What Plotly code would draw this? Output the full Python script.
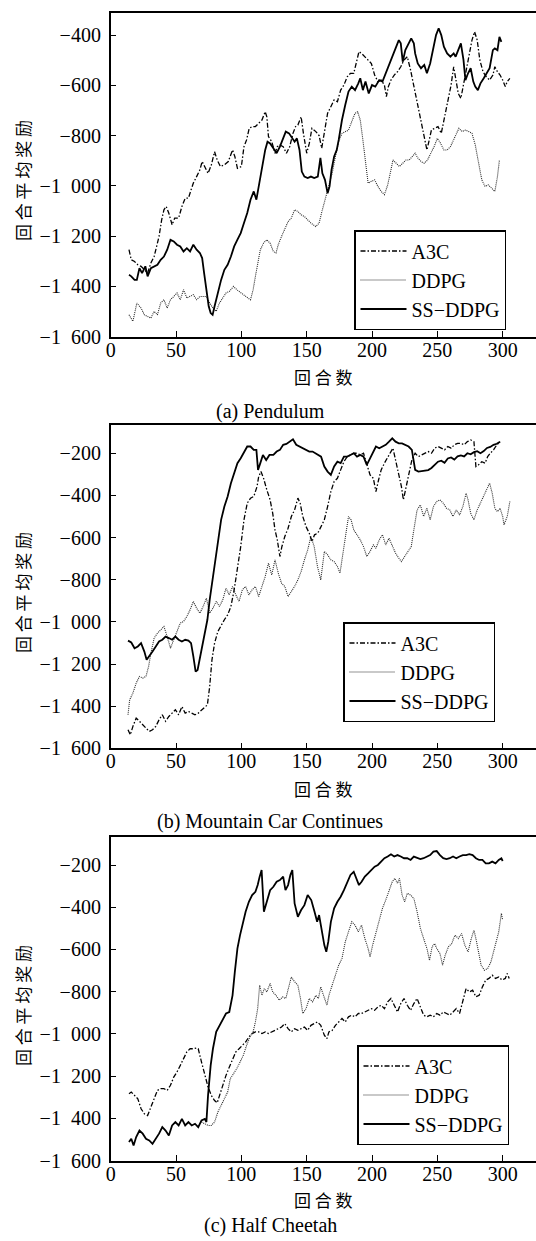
import plotly.graph_objects as go

# ---------------- data ----------------
# Panel (a) Pendulum
A_A3C_X = [14,15.75,18.25,20.75,23.25,25.75,28.25,30.75,33.25,35.75,37,39,40.75,42.5,44.5,47,49,52,54.5,57,59.5,61.5,63.25,65.75,68.25,70,72,74.5,77,79.5,81.5,84,87,90,93.25,95,97,100,102,104,106,108.25,110.75,113.25,115.75,118.25,119.5,120.75,123.25,125.75,127.5,129.5,132,134.5,137,139.5,141.5,143.25,145.75,147.5,150,152,154,157,159.5,161.5,163.5,166,168.5,171,173.5,176,178.5,181,183.5,186,188.5,190,192,194.5,197,199.5,202,204.5,207,209.5,211,212.5,214.5,217,219.5,222,224.5,227,229.5,232,234.5,237,239.5,242,243.5,245.5,248,250.5,253,255.5,258,260.5,262.5,264,266,268,270,272,274,276.5,278.5,280.5,282.5,285,287.5,290,292.5,294,296,298,300,302,303.5,305.5]
A_A3C_Y = [-1254,-1294,-1301,-1314,-1320,-1334,-1347,-1307,-1281,-1228,-1201,-1135,-1095,-1082,-1109,-1155,-1128,-1128,-1082,-1049,-1049,-1016,-989,-963,-936,-903,-923,-950,-917,-864,-897,-923,-916,-903,-857,-883,-930,-923,-844,-817,-771,-764,-764,-751,-738,-705,-725,-804,-824,-870,-844,-837,-844,-870,-844,-791,-764,-758,-725,-791,-870,-831,-771,-784,-800,-850,-791,-711,-685,-658,-665,-619,-599,-566,-552,-552,-499,-466,-473,-486,-499,-513,-559,-585,-579,-599,-645,-605,-579,-559,-546,-526,-499,-486,-539,-605,-658,-724,-791,-857,-824,-777,-771,-764,-791,-724,-658,-599,-526,-566,-632,-652,-599,-546,-499,-420,-387,-420,-499,-546,-566,-579,-559,-526,-546,-559,-579,-605,-585,-572]

A_DDPG_X = [14,17,20,23.25,25.75,28.25,30.75,33.25,35.75,38.25,40.75,43.25,45.75,48.25,50.75,53.25,55.75,58.25,60.75,63.25,65.75,68.25,70.75,73.25,75.75,78.25,80.75,83.25,85.75,88.25,90.75,94,96.5,99.5,102,105,107,109,110.75,112.5,114.5,117,119.5,122,124.5,126.5,128.25,130.75,133.25,135.75,138.25,140.75,143.25,145.75,148.25,150.75,153.25,157,159.5,162,164.5,167,169.5,172,174.5,177,179.5,182,184.5,187,189,191,193,195,197,199.5,202,204.5,207,209.5,212,214.5,216,218.5,221,223.5,226,228.5,231,233,235,237.5,240,242.5,245,247.5,250,252.5,255,257.5,260,262.5,265,266.5,269,271.5,274,276.5,279,281.5,284,286.5,289,291.5,294,296,297.5]
A_DDPG_Y = [-1513,-1539,-1466,-1486,-1513,-1519,-1526,-1499,-1513,-1466,-1453,-1486,-1453,-1440,-1426,-1453,-1413,-1446,-1440,-1433,-1453,-1440,-1440,-1440,-1466,-1486,-1499,-1466,-1446,-1426,-1420,-1400,-1413,-1426,-1433,-1446,-1453,-1413,-1360,-1307,-1254,-1228,-1214,-1228,-1261,-1267,-1234,-1201,-1168,-1142,-1128,-1095,-1102,-1115,-1122,-1135,-1148,-1162,-1148,-1095,-1049,-1002,-950,-883,-824,-791,-784,-778,-744,-711,-705,-738,-817,-897,-989,-982,-976,-1002,-1022,-1035,-996,-936,-897,-910,-923,-910,-897,-897,-883,-870,-889,-903,-910,-897,-870,-844,-811,-831,-857,-857,-844,-817,-784,-771,-784,-778,-784,-791,-837,-910,-976,-1002,-996,-1009,-1022,-963,-897]

A_SS_X = [14,15.75,18.25,20,22,24,26.5,28.25,30.75,33.25,35.75,38.25,40.75,43.25,45.75,48.25,50.75,53.25,55.75,58.25,60.75,63.25,65.75,68.25,70,71.5,73.25,75,76.5,78,79.5,82,84.5,87,89.5,92,94.5,97,99.5,102,104.5,107,109.5,111.5,113.25,115.75,118.25,120,122,124.5,127,129.5,132,134,136.5,139,140.75,142.5,144.5,146.25,148.25,150.75,153.25,155.75,158.5,160.5,162,164,166,167.5,169,171,173,174.5,177,179.5,182,184.5,187,189.5,191,193,195,197.5,200,202.5,205.5,208,210.5,213,215.5,218,220.5,222,223.5,225.5,228,230,232,233,235,237.5,240,242,244.5,247,249,251,253,255,257.5,260,262.5,264,266,268,270,271.5,273.5,275.5,277.5,279,281,283,285.5,288,290,292.5,294,296,297.5,299]
A_SS_Y = [-1354,-1360,-1374,-1374,-1327,-1347,-1320,-1360,-1327,-1320,-1314,-1294,-1281,-1254,-1214,-1221,-1234,-1241,-1261,-1248,-1261,-1234,-1254,-1267,-1287,-1347,-1426,-1479,-1506,-1513,-1479,-1426,-1374,-1334,-1314,-1281,-1241,-1214,-1188,-1148,-1108,-1055,-1022,-1055,-1002,-923,-857,-824,-831,-850,-870,-844,-811,-784,-791,-811,-824,-811,-857,-943,-963,-969,-963,-969,-963,-889,-950,-976,-1029,-1002,-936,-883,-857,-817,-738,-678,-625,-605,-619,-592,-572,-619,-585,-632,-599,-605,-579,-585,-552,-526,-493,-453,-420,-433,-506,-460,-433,-413,-433,-473,-513,-532,-519,-552,-513,-446,-400,-373,-400,-446,-473,-486,-473,-486,-460,-433,-499,-579,-552,-532,-585,-605,-619,-592,-572,-552,-532,-460,-453,-460,-407,-427]

# Panel (b) Mountain Car Continues
B_A3C_X = [13.25,15,17,19.5,22,24.5,27,29.5,32,34.5,37,39.5,42,44.5,47,49.5,52,54.5,57,59.5,62,64.5,67,69.5,72,74,75.75,77.5,79.5,82,84.5,87,89.5,92,94.5,97,99.5,102,104.5,107,109.5,112,113.25,115,117,119.5,122,124,125.75,127.5,129.5,131,133.25,135.75,138.25,140.75,143.25,145,147,149.5,152,154,156,158.5,161,163.5,166,168.5,171,173.5,176,178.5,181,183.5,186,188.5,191,193.5,196,198.5,201,203,205,207,209.5,212,214.5,216,218,220.5,222.5,224,225.5,228,230.5,233,235.5,238,240.5,243,245.5,248,250.5,253,255.5,258,260.5,263,265.5,268,270.5,273,275.5,278,279.5,281.5,284,286.5,288.5,290.5,293,295.5,298]
B_A3C_Y = [-1512,-1536,-1496,-1457,-1472,-1488,-1504,-1520,-1512,-1496,-1465,-1441,-1472,-1449,-1433,-1417,-1441,-1402,-1433,-1425,-1433,-1441,-1433,-1417,-1405,-1394,-1307,-1180,-1101,-1046,-1014,-990,-967,-927,-848,-753,-643,-516,-437,-413,-405,-358,-311,-287,-319,-374,-421,-485,-564,-611,-690,-643,-595,-556,-500,-469,-413,-437,-500,-548,-580,-620,-587,-579,-548,-516,-453,-382,-334,-319,-279,-240,-216,-208,-200,-200,-208,-200,-255,-303,-319,-382,-327,-279,-247,-216,-192,-176,-232,-295,-358,-421,-374,-295,-232,-200,-216,-208,-200,-192,-200,-176,-168,-176,-184,-168,-176,-160,-153,-153,-160,-145,-137,-145,-263,-255,-240,-247,-216,-200,-184,-160,-145]

B_DDPG_X = [13.25,14.5,17,19.5,22,24.5,27,29,30.75,33.25,35.75,38.25,40.75,43.25,45.75,48.25,50.75,53.25,55.75,58.25,60.75,63.25,65.75,68.25,70.75,73.25,75.75,78.25,80.75,83.25,85.75,88.25,90.75,93.25,95.75,98.25,100.75,103.25,105.75,108.25,110.75,113.25,115.75,118.25,120.75,123.25,125.75,128.25,130.75,133.25,135.75,138.25,140.75,143.25,145.75,148.25,150.75,153.25,155.75,158.25,160.75,163.5,166,168.5,171,173.5,175.5,177,179.5,182,184,186,188.5,191,193.5,196,198.5,201,203,205.5,208,210.5,213,215.5,218,220.5,222.5,225,227.5,230,232,234.5,237,239.5,242,244.5,247,249.5,252,254.5,257,259.5,262,264.5,267,269.5,272,273.5,275.5,278,280.5,283,285.5,288,290,292,294,296,298,300,301,303.5,305.5]
B_DDPG_Y = [-1441,-1370,-1338,-1291,-1259,-1267,-1259,-1212,-1149,-1077,-1054,-1038,-1022,-1070,-1125,-1085,-1046,-1006,-998,-975,-943,-903,-935,-959,-927,-888,-959,-935,-903,-927,-896,-840,-872,-832,-872,-903,-848,-832,-872,-848,-832,-880,-832,-785,-722,-777,-706,-769,-817,-832,-880,-856,-832,-801,-761,-706,-659,-595,-643,-737,-801,-666,-682,-706,-714,-737,-769,-706,-595,-500,-516,-564,-587,-611,-643,-690,-666,-635,-651,-611,-587,-635,-603,-643,-674,-698,-714,-690,-666,-643,-564,-469,-445,-500,-461,-516,-453,-429,-421,-437,-461,-469,-500,-469,-493,-453,-390,-421,-485,-516,-469,-437,-398,-374,-342,-390,-461,-477,-461,-500,-540,-500,-429]

B_SS_X = [13.25,15.75,18.25,20.75,23.25,25.75,27.5,29.5,32,34.5,37,39.5,42,44.5,47,49.5,52,54.5,57,59.5,61.5,63.25,65,66.5,68.25,70,72,74,75.75,77.5,79.5,82,84.5,87,89.5,92,94.5,97,99.5,102,104.5,107,109.5,111.5,112.75,114.5,116.5,119,121.5,124.5,127,129.5,132,134.5,137,139.5,142,144.5,147,149.5,152,154.5,157,159.5,161,163.5,166,168.5,171,173.5,176,178.5,181,183.5,186,188.5,191,193.5,196,198.5,201,203,205.5,208,210.5,213,215.5,218,220.5,223,225.5,228,230.5,233,235.5,238,240.5,243,245.5,248,250.5,253,255.5,258,260.5,263,265.5,268,270.5,273,275.5,278,280.5,283,285.5,288,290.5,293,295.5,298]
B_SS_Y = [-1089,-1098,-1125,-1117,-1101,-1141,-1180,-1164,-1141,-1117,-1093,-1085,-1070,-1077,-1085,-1070,-1085,-1093,-1085,-1089,-1101,-1164,-1236,-1228,-1172,-1117,-1054,-990,-896,-817,-737,-627,-516,-453,-405,-342,-295,-247,-224,-192,-168,-168,-184,-184,-279,-247,-208,-232,-208,-208,-192,-184,-160,-156,-145,-134,-160,-168,-176,-184,-192,-192,-200,-208,-216,-263,-287,-303,-263,-240,-247,-216,-216,-208,-200,-216,-208,-216,-255,-224,-192,-168,-176,-168,-160,-145,-129,-145,-153,-153,-160,-168,-184,-279,-287,-285,-280,-280,-270,-255,-240,-235,-245,-225,-220,-230,-215,-210,-215,-200,-205,-195,-190,-200,-190,-175,-170,-160,-155,-145]

# Panel (c) Half Cheetah
C_A3C_X = [14,15.75,18.25,20.75,23.25,25.75,28.25,30.75,33.25,35.75,38.25,40.75,43.25,45.75,48.25,50.75,53.25,55.75,58.25,60.75,63.25,65.75,67,69.5,72,74.5,77,79.5,81.5,83.25,85.75,88.25,90.75,93.25,95.75,98.25,100.75,103.25,105.75,108.25,110.75,113.25,115.75,118.25,120.75,123.25,125.75,128.25,130.75,133.25,135.75,138.25,140.75,143.25,145.75,148.25,150.75,153.25,155.75,158.25,160.75,163.5,165.5,167,169.5,172,174.5,177,179.5,182,184.5,187,189.5,192,194.5,197,199.5,202,204.5,207,209.5,212,214.5,217,219.5,222,224.5,227,229.5,232,234.5,237,239.5,242,244.5,247,249.5,252,254.5,257,259.5,262,264.5,267,269.5,272,274.5,277,279.5,282,284.5,287,289.5,292,294.5,297,299.5,302,303.5,305]
C_A3C_Y = [-1283,-1275,-1291,-1307,-1354,-1378,-1386,-1346,-1307,-1267,-1259,-1259,-1267,-1243,-1204,-1180,-1149,-1117,-1085,-1070,-1070,-1066,-1070,-1133,-1188,-1251,-1291,-1315,-1326,-1291,-1243,-1196,-1157,-1117,-1085,-1070,-1054,-1038,-1014,-998,-990,-990,-998,-990,-998,-990,-983,-975,-967,-951,-975,-990,-975,-983,-975,-967,-983,-959,-951,-943,-959,-1006,-1022,-990,-983,-959,-943,-927,-943,-919,-911,-919,-903,-903,-896,-888,-880,-888,-872,-864,-880,-848,-832,-864,-896,-856,-832,-864,-888,-856,-832,-872,-911,-919,-911,-919,-903,-911,-896,-903,-911,-896,-880,-903,-848,-785,-801,-793,-824,-817,-777,-745,-737,-722,-737,-730,-745,-737,-714,-737]

C_DDPG_X = [69.5,72,74.5,77,79.5,82,84.5,87,89.5,91.5,94,96.5,99,101.5,104,106.5,109,110.75,112.5,114,115.75,117.5,119.5,122,124,126.5,129,131.5,134,136.5,138.25,140.75,143.25,145.25,147,149.5,152,154.5,157,159,160.75,162,164,165.5,167,169.5,172,174.5,177,179.5,182,184.5,187,189.5,192,194.5,197,198.5,200.5,203,205.5,208,210.5,213,215.5,217.5,219.5,221,223,225,227,229.5,232,234.5,237,239.5,242,244,246,248,249.5,252,254,256,258.5,261,263.5,266,268.5,271,273.5,276,278,279.5,281.5,283.5,286,288.5,291,293.5,295.5,297,299,300]
C_DDPG_Y = [-1417,-1425,-1433,-1433,-1417,-1370,-1338,-1307,-1275,-1212,-1188,-1164,-1133,-1101,-1054,-1014,-990,-943,-880,-769,-817,-785,-801,-761,-801,-817,-840,-825,-832,-769,-730,-753,-769,-832,-903,-880,-832,-848,-817,-832,-777,-801,-832,-864,-817,-769,-722,-674,-643,-564,-516,-469,-485,-516,-485,-548,-595,-635,-579,-516,-453,-405,-366,-327,-279,-263,-287,-263,-342,-374,-334,-342,-358,-421,-500,-548,-595,-651,-587,-572,-595,-619,-674,-627,-587,-572,-532,-548,-524,-579,-611,-548,-508,-548,-611,-674,-698,-690,-659,-595,-556,-516,-429,-461]

C_SS_X = [14,15.75,17.5,19.5,22,24.5,27,29.5,32,34.5,37,39.5,42,44.5,47,49.5,52,54.5,57,59.5,62,64.5,67,69.5,72,73.25,74.5,76.5,78.25,80.75,83.25,85.75,88.25,90.75,93.25,95,97,99,100.75,103.25,105.75,108.25,110.75,112.5,114,115.5,117.25,119.5,122,124.5,127,129.5,132,133.75,135.75,137.5,139,140.75,143.25,145.75,148.25,150.75,153.5,156,158,159.5,161.5,163.5,165,166.5,168.5,171,173.5,176,178.5,181,183.5,186,188,190,192,194.5,197,199.5,202,204.5,207,209.5,212,214.5,217,219.5,222,224.5,227,229.5,232,234.5,237,239.5,242,244.5,247,249.5,252,254.5,257,259.5,262,264.5,267,269.5,272,274.5,277,279.5,282,284.5,287,289.5,292,294.5,297,299,300]
C_SS_Y = [-1512,-1496,-1528,-1488,-1457,-1472,-1496,-1504,-1520,-1496,-1472,-1441,-1457,-1481,-1433,-1417,-1433,-1402,-1433,-1417,-1433,-1425,-1441,-1409,-1402,-1417,-1291,-1149,-1070,-990,-959,-935,-903,-896,-817,-706,-595,-532,-485,-421,-374,-342,-327,-295,-255,-224,-421,-366,-319,-303,-279,-271,-255,-319,-295,-247,-224,-382,-445,-413,-390,-342,-366,-421,-469,-437,-516,-579,-611,-564,-469,-405,-374,-350,-319,-279,-247,-232,-263,-295,-279,-255,-240,-224,-208,-200,-184,-168,-160,-149,-160,-153,-160,-168,-168,-176,-160,-168,-172,-168,-160,-153,-137,-134,-153,-168,-172,-168,-160,-168,-160,-153,-153,-149,-153,-168,-176,-176,-192,-192,-184,-192,-176,-168,-181]

SERIES_NAMES = ["A3C", "DDPG", "SS\u2212DDPG"]
PANEL_TITLES = ["(a) Pendulum", "(b) Mountain Car Continues", "(c) Half Cheetah"]
X_TICKS = [0, 50, 100, 150, 200, 250, 300]
Y_TICKS_A = [-400, -600, -800, -1000, -1200, -1400, -1600]
Y_TICKS_BC = [-200, -400, -600, -800, -1000, -1200, -1400, -1600]
X_TITLE = "回 合 数"
Y_TITLE = "回 合 平 均 奖 励"

# ---------------- layout constants ----------------
W, H = 536, 1241
SERIF = "Liberation Serif"
CJK = "Noto Sans CJK SC"


def fmt(v):
    s = f"{abs(v):,}".replace(",", "\u2002")
    return ("\u2212" + s) if v < 0 else s


panels = [
    dict(data=[(A_A3C_X, A_A3C_Y), (A_DDPG_X, A_DDPG_Y), (A_SS_X, A_SS_Y)],
         top=12.7, bottom=336.7, yr=[-1600, -311], yt=Y_TICKS_A,
         leg=(354, 230), xt_y=376.7, sub_y=411, yt_y=181),
    dict(data=[(B_A3C_X, B_A3C_Y), (B_DDPG_X, B_DDPG_Y), (B_SS_X, B_SS_Y)],
         top=425.0, bottom=748.3, yr=[-1600, -66], yt=Y_TICKS_BC,
         leg=(343, 622), xt_y=788, sub_y=821, yt_y=593),
    dict(data=[(C_A3C_X, C_A3C_Y), (C_DDPG_X, C_DDPG_Y), (C_SS_X, C_SS_Y)],
         top=836.7, bottom=1160.7, yr=[-1600, -66], yt=Y_TICKS_BC,
         leg=(357, 1045), xt_y=1199, sub_y=1225, yt_y=1006),
]

styles = [
    dict(color="black", width=1.3, dash="5px,2px,1.5px,2px"),
    dict(color="#2a2a2a", width=1.1, dash="1px,1px"),
    dict(color="black", width=1.8, dash="solid"),
]

fig = go.Figure()
annotations = []
layout = dict(width=W, height=H, margin=dict(l=0, r=0, t=0, b=0, autoexpand=False),
              paper_bgcolor="white", plot_bgcolor="white", showlegend=True)

x0 = 110.7 / W
for i, p in enumerate(panels):
    k = "" if i == 0 else str(i + 1)
    legname = "legend" if i == 0 else f"legend{i + 1}"
    for j, (xs, ys) in enumerate(p["data"]):
        fig.add_trace(go.Scatter(
            x=xs, y=ys, mode="lines", name=SERIES_NAMES[j],
            line=styles[j], xaxis="x" + k, yaxis="y" + k,
            legend=legname, legendrank=j + 1, showlegend=True))
    ydom = [1 - p["bottom"] / H, 1 - p["top"] / H]
    layout["xaxis" + k] = dict(
        domain=[x0, 1.0], range=[0, 325.5], anchor="y" + k,
        tickvals=X_TICKS, ticktext=[str(v) for v in X_TICKS],
        ticks="inside", ticklen=6, tickwidth=1.3, tickcolor="black",
        showline=True, linecolor="black", linewidth=1.6, mirror=True,
        showgrid=False, zeroline=False, automargin=False, ticklabelstandoff=-6,
        tickfont=dict(family=SERIF, size=20, color="black"))
    layout["yaxis" + k] = dict(
        domain=ydom, range=p["yr"], anchor="x" + k,
        tickvals=p["yt"], ticktext=[fmt(v) for v in p["yt"]],
        ticks="inside", ticklen=5, tickwidth=1.3, tickcolor="black",
        showline=True, linecolor="black", linewidth=1.6, mirror=False,
        showgrid=False, zeroline=False, automargin=False, ticklabelstandoff=4,
        tickfont=dict(family=SERIF, size=20, color="black"))
    lx, ly = p["leg"]
    layout[legname] = dict(
        x=lx / W, y=1 - ly / H, xanchor="left", yanchor="top",
        bgcolor="white", bordercolor="black", borderwidth=1.5,
        font=dict(family=SERIF, size=20, color="black"),
        tracegroupgap=0, itemwidth=46)
    annotations.append(dict(
        text=X_TITLE, x=323 / W, y=1 - p["xt_y"] / H, xref="paper", yref="paper",
        xanchor="center", yanchor="middle", showarrow=False,
        font=dict(family=CJK, size=17, color="black")))
    annotations.append(dict(
        text=PANEL_TITLES[i], x=270 / W, y=1 - p["sub_y"] / H, xref="paper", yref="paper",
        xanchor="center", yanchor="middle", showarrow=False,
        font=dict(family=SERIF, size=20, color="black")))
    annotations.append(dict(
        text=Y_TITLE, x=22 / W, y=1 - p["yt_y"] / H, xref="paper", yref="paper",
        xanchor="center", yanchor="middle", showarrow=False, textangle=-90,
        font=dict(family=CJK, size=17, color="black")))

layout["annotations"] = annotations
fig.update_layout(**layout)
fig.write_html("out.html",
               config={"displayModeBar": False},
               post_script="document.body.style.margin='0';document.body.style.padding='0';"
                           "document.documentElement.style.overflow='hidden';")
